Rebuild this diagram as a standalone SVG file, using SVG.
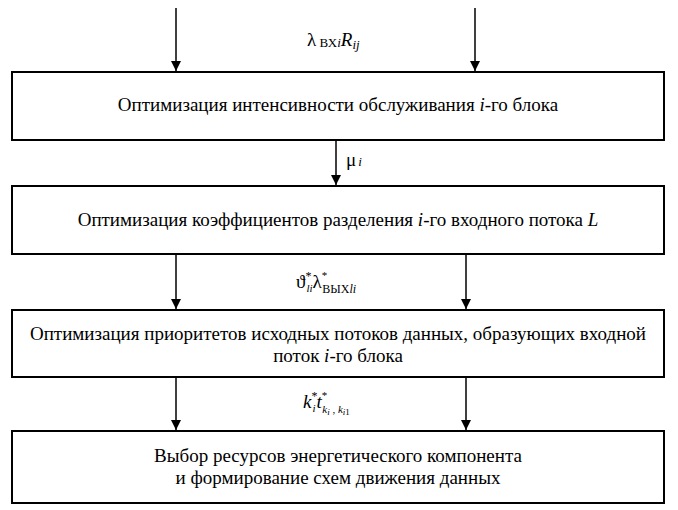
<svg xmlns="http://www.w3.org/2000/svg" width="678" height="510" viewBox="0 0 678 510" font-family="'Liberation Serif', 'DejaVu Serif', serif">
<style>
.box{fill:#fff;stroke:#000;stroke-width:2}
text{font-family:"Liberation Serif","DejaVu Serif",serif;fill:#000}
.t{font-size:19px;text-anchor:middle}
.l{font-size:19px}
.c line{stroke:#000;stroke-width:1.5}
</style>
<defs>
<marker id="ah" viewBox="0 0 10 10" refX="10" refY="5" markerWidth="10" markerHeight="10" markerUnits="userSpaceOnUse" orient="auto">
<path d="M0,0 L10,5 L0,10 z" fill="#000"/>
</marker>
</defs>
<g id="connectors" class="c">
<line x1="176" y1="8" x2="176" y2="71" marker-end="url(#ah)"/>
<line x1="475" y1="8" x2="475" y2="71" marker-end="url(#ah)"/>
<line x1="336" y1="140" x2="336" y2="185" marker-end="url(#ah)"/>
<line x1="176" y1="254" x2="176" y2="309" marker-end="url(#ah)"/>
<line x1="466" y1="254" x2="466" y2="309" marker-end="url(#ah)"/>
<line x1="176" y1="377" x2="176" y2="430" marker-end="url(#ah)"/>
<line x1="466" y1="377" x2="466" y2="430" marker-end="url(#ah)"/>
</g>
<g id="lbl1"><text class="l" x="307" y="46">λ<tspan font-size="13" dy="1"> ВХ</tspan><tspan font-size="13" font-style="italic">i</tspan><tspan font-style="italic" dy="-1">R</tspan><tspan font-size="13" font-style="italic" dy="3">ij</tspan></text></g>
<g id="lbl2"><text class="l" x="346" y="166">μ<tspan font-size="13" font-style="italic" dx="2">i</tspan></text></g>
<g id="lbl3"><text class="l" x="296" y="288">ϑ<tspan font-size="12" dy="-8">*</tspan><tspan font-size="11" font-style="italic" dx="-5" dy="12">li</tspan><tspan dy="-4">λ</tspan><tspan font-size="11" dy="-9">*</tspan><tspan font-size="12" dx="-5" dy="14">ВЫХ</tspan><tspan font-size="12" font-style="italic">li</tspan></text></g>
<g id="lbl4"><text class="l" x="303" y="408" font-style="italic">k<tspan font-size="12" font-style="normal" dy="-8">*</tspan><tspan font-size="11" dx="-5" dy="12">i</tspan><tspan dy="-4" dx="1">t</tspan><tspan font-size="11" font-style="normal" dy="-9">*</tspan><tspan font-size="11" dx="-5" dy="14">k</tspan><tspan font-size="9" dy="2">i</tspan><tspan font-size="11" font-style="normal" dy="-2"> , </tspan><tspan font-size="11">k</tspan><tspan font-size="9" dy="2">i</tspan><tspan font-size="9" font-style="normal">1</tspan></text></g>
<g id="box1"><rect class="box" x="12" y="72" width="652" height="68"/><text class="t" x="338" y="111">Оптимизация интенсивности обслуживания <tspan font-style="italic">i</tspan>-го блока</text></g>
<g id="box2"><rect class="box" x="12" y="186" width="652" height="68"/><text class="t" x="338" y="226">Оптимизация коэффициентов разделения <tspan font-style="italic">i</tspan>-го входного потока <tspan font-style="italic">L</tspan></text></g>
<g id="box3"><rect class="box" x="12" y="310" width="652" height="67"/><text class="t" x="338" y="340">Оптимизация приоритетов исходных потоков данных, образующих входной</text><text class="t" x="338" y="362">поток <tspan font-style="italic">i</tspan>-го блока</text></g>
<g id="box4"><rect class="box" x="12" y="431" width="652" height="72"/><text class="t" x="338" y="462">Выбор ресурсов энергетического компонента</text><text class="t" x="338" y="484">и формирование схем движения данных</text></g>
</svg>
